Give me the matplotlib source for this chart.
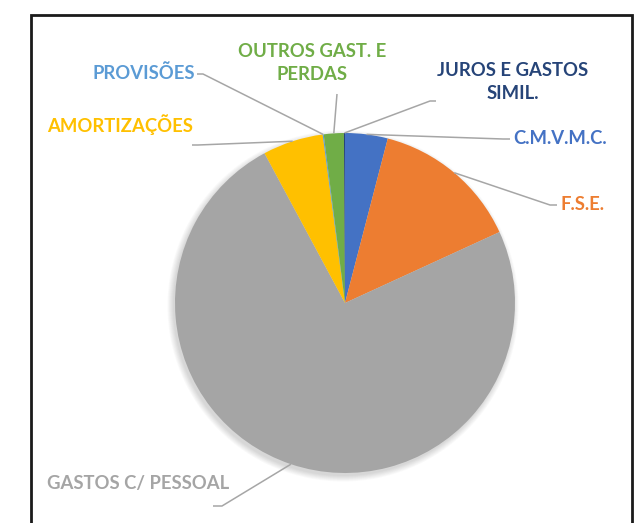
import matplotlib
matplotlib.use("Agg")
import matplotlib.pyplot as plt
import numpy as np
from matplotlib.patches import Rectangle, Circle

categories = ["C.M.V.M.C.", "F.S.E.", "GASTOS C/ PESSOAL", "AMORTIZAÇÕES",
              "PROVISÕES", "OUTROS GAST. E\nPERDAS", "JUROS E GASTOS\nSIMIL."]
values = [4.05, 14.1, 74.0, 5.75, 0.1, 1.9, 0.1]
colors = ["#4472C4", "#ED7D31", "#A5A5A5", "#FFC000", "#5B9BD5", "#70AD47", "#264478"]

W, H = 643, 523
fig = plt.figure(figsize=(W / 100, H / 100), dpi=100)
ax = fig.add_axes([0, 0, 1, 1])

cx, cy, R = 345, H - 303, 170

# soft shadow
for i in range(8):
    ax.add_patch(Circle((cx - 2, cy - 3), R + i * 0.8, color="#000000", alpha=0.018, lw=0, zorder=1))

wedges, _ = ax.pie(values, colors=colors, startangle=90, counterclock=False,
                   center=(cx, cy), radius=R, frame=True,
                   wedgeprops=dict(linewidth=0))
for w in wedges:
    w.set_zorder(2)
ax.set_xlim(0, W)
ax.set_ylim(0, H)
ax.set_aspect("equal")
ax.axis("off")

font = dict(family=["Lato", "DejaVu Sans"], fontweight="bold", fontsize=13.3)

labels = [
    # idx, text x, text y, ha, leader start (img), leader elbow (img)
    (0, 513, 138, "left", (510, 139), (503, 139)),
    (1, 560, 205, "left", (557, 205), (550, 205)),
    (2, 47, 483, "left", (213, 506), (222, 506)),
    (3, 47, 125, "left", (192, 145), (198, 145)),
    (4, 92, 73, "left", (197, 74), (203, 74)),
    (5, 312, 63, "center", (337, 94), (337, 94)),
    (6, 513, 82, "center", (436, 101), (430, 101)),
]

cum = np.cumsum([0] + values)
tot = sum(values)
for idx, tx, ty, ha, p0, p1 in labels:
    ax.text(tx, H - ty, categories[idx], color=colors[idx], ha=ha, va="center",
            multialignment="center", linespacing=1.45, zorder=5, **font)
    mid = (cum[idx] + cum[idx + 1]) / 2 / tot
    ang = np.deg2rad(90 - 360 * mid)
    ex, ey = cx + R * np.cos(ang), cy + R * np.sin(ang)
    ax.plot([p0[0], p1[0], ex], [H - p0[1], H - p1[1], ey], color="#A6A6A6",
            lw=1.1, zorder=4, solid_capstyle="butt")

# outer frame
ax.add_patch(Rectangle((31, -10), 601, H - 15 + 10, fill=False, edgecolor="#1a1a1a",
                       lw=2.0, zorder=6))

fig.savefig("out.png", dpi=100)
